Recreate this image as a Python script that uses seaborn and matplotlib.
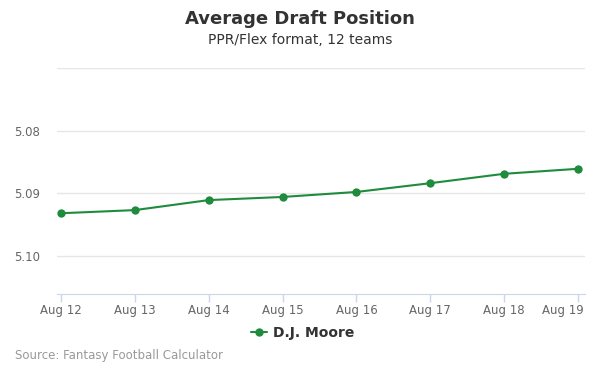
import pandas as pd
import matplotlib
matplotlib.use("Agg")
import matplotlib.pyplot as plt
from matplotlib.transforms import ScaledTranslation
import seaborn as sns

# data
dates = ["Aug 12", "Aug 13", "Aug 14", "Aug 15", "Aug 16", "Aug 17", "Aug 18", "Aug 19"]
adp = [5.0932, 5.0927, 5.0911, 5.0906, 5.0898, 5.0884, 5.0869, 5.0861]
player = "D.J. Moore"
y_ticks = [5.07, 5.08, 5.09, 5.10]
y_labels = ["", "5.08", "5.09", "5.10"]

green = "#1f8b3c"

sns.set_style("white")
plt.rcParams["font.family"] = ["DejaVu Sans"]

df = pd.DataFrame({"x": range(len(dates)), "adp": adp, "player": player})

fig = plt.figure(figsize=(6, 3.75), dpi=100)
ax = fig.add_axes([57 / 600, 1 - 294 / 375, (585 - 57) / 600, (294 - 68) / 375])

sns.lineplot(data=df, x="x", y="adp", ax=ax, color=green, marker="o",
             markersize=6, markeredgewidth=0, linewidth=1.5, label=player)

ax.set_xlim(-0.054, 7.095)
ax.set_ylim(5.1061, 5.07)
ax.set_xticks(range(len(dates)))
ax.set_xticklabels(dates)
ax.set_yticks(y_ticks)
ax.set_yticklabels(y_labels)
ax.set_xlabel("")
ax.set_ylabel("")

ax.grid(axis="y", color="#e6e6e6", linewidth=1)
ax.set_axisbelow(True)
for s in ["top", "right", "left"]:
    ax.spines[s].set_visible(False)
ax.spines["bottom"].set_color("#ccd6eb")
ax.tick_params(axis="x", bottom=True, direction="out", colors="#ccd6eb", length=6,
               width=1, labelcolor="#666666", labelsize=8.5, pad=1)
ax.tick_params(axis="y", left=False, length=0, labelcolor="#666666", labelsize=8.5, pad=12)

# last label is pulled in so it stays inside the plot width
last = ax.get_xticklabels()[-1]
last.set_horizontalalignment("right")
last.set_transform(last.get_transform() + ScaledTranslation(6 / 100, 0, fig.dpi_scale_trans))

leg = ax.legend(loc="upper center", bbox_to_anchor=(0.5 - 0.035, -0.085), frameon=False,
                handlelength=1.2, handletextpad=0.4, prop={"weight": "bold", "size": 10})
for t in leg.get_texts():
    t.set_color("#333333")

fig.text(0.5, 1 - 19 / 375, "Average Draft Position", ha="center", va="center",
         fontsize=13, fontweight="bold", color="#333333")
fig.text(0.5, 1 - 40 / 375, "PPR/Flex format, 12 teams", ha="center", va="center",
         fontsize=10, color="#333333")
fig.text(15 / 600, 1 - 356 / 375, "Source: Fantasy Football Calculator", ha="left",
         va="center", fontsize=8.5, color="#999999")

fig.savefig("out.png", dpi=100)
